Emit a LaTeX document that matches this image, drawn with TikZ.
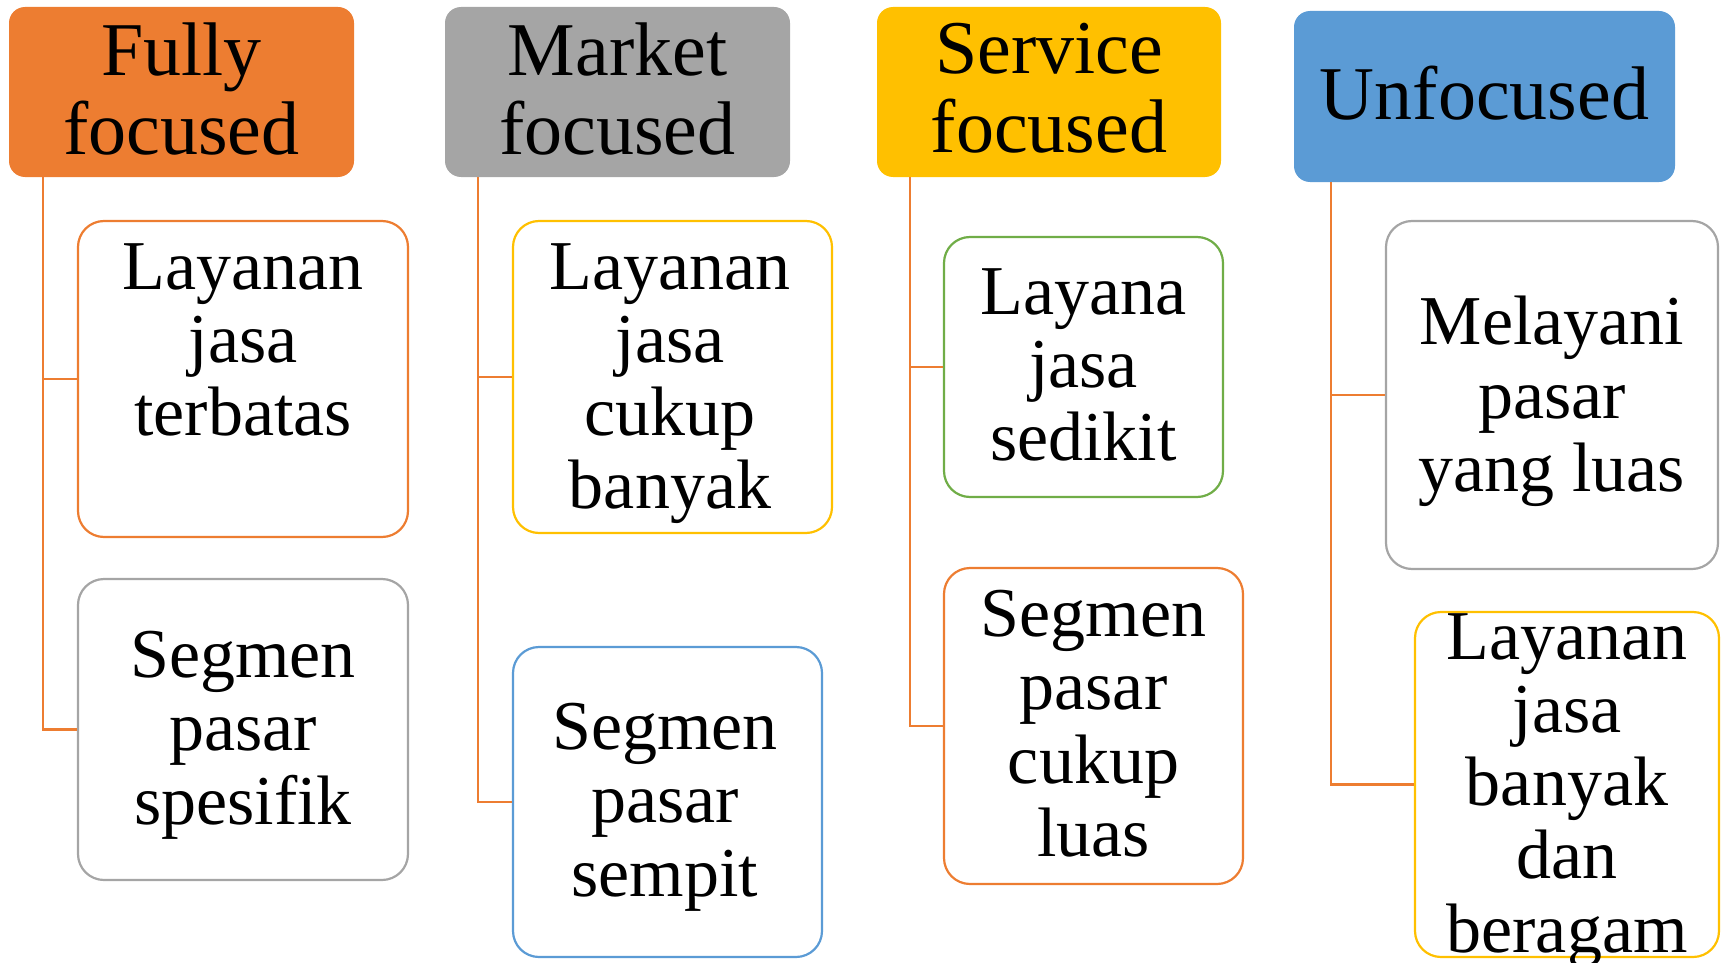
\documentclass[tikz,border=0pt]{standalone}
\usepackage{fontspec}
\setmainfont{Liberation Serif}
\definecolor{cOrange}{HTML}{ED7D31}
\definecolor{cGrey}{HTML}{A5A5A5}
\definecolor{cGold}{HTML}{FFC000}
\definecolor{cBlue}{HTML}{5B9BD5}
\definecolor{cGreen}{HTML}{70AD47}
\begin{document}
\begin{tikzpicture}[x=1pt,y=-1pt,
  hdr/.style={rectangle, rounded corners=16pt, draw=none, inner sep=0pt},
  childbox/.style={rectangle, rounded corners=26pt, line width=2.2pt, fill=white, inner sep=0pt},
  ctext/.style={anchor=north, align=center, inner sep=0pt, font=\fontsize{70}{73.3}\selectfont},
  htext/.style={anchor=north, align=center, inner sep=0pt, font=\fontsize{76}{79}\selectfont},
  conn/.style={draw=cOrange, line width=2.2pt}]
\useasboundingbox (0,0) rectangle (1721,963);

% headers
\node[hdr, fill=cOrange, minimum width=345pt, minimum height=170pt] (h1) at (181.5,92) {};
\node[hdr, fill=cGrey,   minimum width=345pt, minimum height=170pt] (h2) at (617.5,92) {};
\node[hdr, fill=cGold,   minimum width=344pt, minimum height=170pt] (h3) at (1049,92) {};
\node[hdr, fill=cBlue,   minimum width=381pt, minimum height=171pt] (h4) at (1484.5,96.5) {};

\node[htext] (th1) at (181.5,23) {Fully\\focused};
\node[htext] (th2) at (617.5,23) {Market\\focused};
\node[htext] (th3) at (1049,23) {Service\\focused};
\node[htext] (th4) at (1484.5,66) {Unfocused};

% child boxes
\node[childbox, draw=cOrange, minimum width=330pt, minimum height=316pt] (a1) at (243,379) {};
\node[childbox, draw=cGrey,   minimum width=330pt, minimum height=301pt] (b1) at (243,729.5) {};
\node[childbox, draw=cGold,   minimum width=319pt, minimum height=312pt] (a2) at (672.5,377) {};
\node[childbox, draw=cBlue,   minimum width=309pt, minimum height=310pt] (b2) at (667.5,802) {};
\node[childbox, draw=cGreen,  minimum width=279pt, minimum height=260pt] (a3) at (1083.5,367) {};
\node[childbox, draw=cOrange, minimum width=299pt, minimum height=316pt] (b3) at (1093.5,726) {};
\node[childbox, draw=cGrey,   minimum width=332pt, minimum height=348pt] (a4) at (1552,395) {};
\node[childbox, draw=cGold,   minimum width=304pt, minimum height=345pt] (b4) at (1567,784.5) {};

% child texts
\node[ctext] (ta1) at (243,243) {Layanan\\jasa\\terbatas};
\node[ctext] (tb1) at (243,631) {Segmen\\pasar\\spesifik};
\node[ctext] (ta2) at (670,243) {Layanan\\jasa\\cukup\\banyak};
\node[ctext] (tb2) at (665,703) {Segmen\\pasar\\sempit};
\node[ctext] (ta3) at (1083.5,268) {Layana\\jasa\\sedikit};
\node[ctext] (tb3) at (1093.5,590) {Segmen\\pasar\\cukup\\luas};
\node[ctext] (ta4) at (1552,296) {Melayani\\pasar\\yang luas};
\node[ctext] (tb4) at (1567,613) {Layanan\\jasa\\banyak\\dan\\beragam};

% connectors
\draw[conn] ([xshift=34pt]h1.south west) |- (a1.west);
\draw[conn] ([xshift=34pt]h1.south west) |- (b1.west);
\draw[conn] ([xshift=33pt]h2.south west) |- (a2.west);
\draw[conn] ([xshift=33pt]h2.south west) |- (b2.west);
\draw[conn] ([xshift=33pt]h3.south west) |- (a3.west);
\draw[conn] ([xshift=33pt]h3.south west) |- (b3.west);
\draw[conn] ([xshift=37pt]h4.south west) |- (a4.west);
\draw[conn] ([xshift=37pt]h4.south west) |- (b4.west);
\end{tikzpicture}
\end{document}
